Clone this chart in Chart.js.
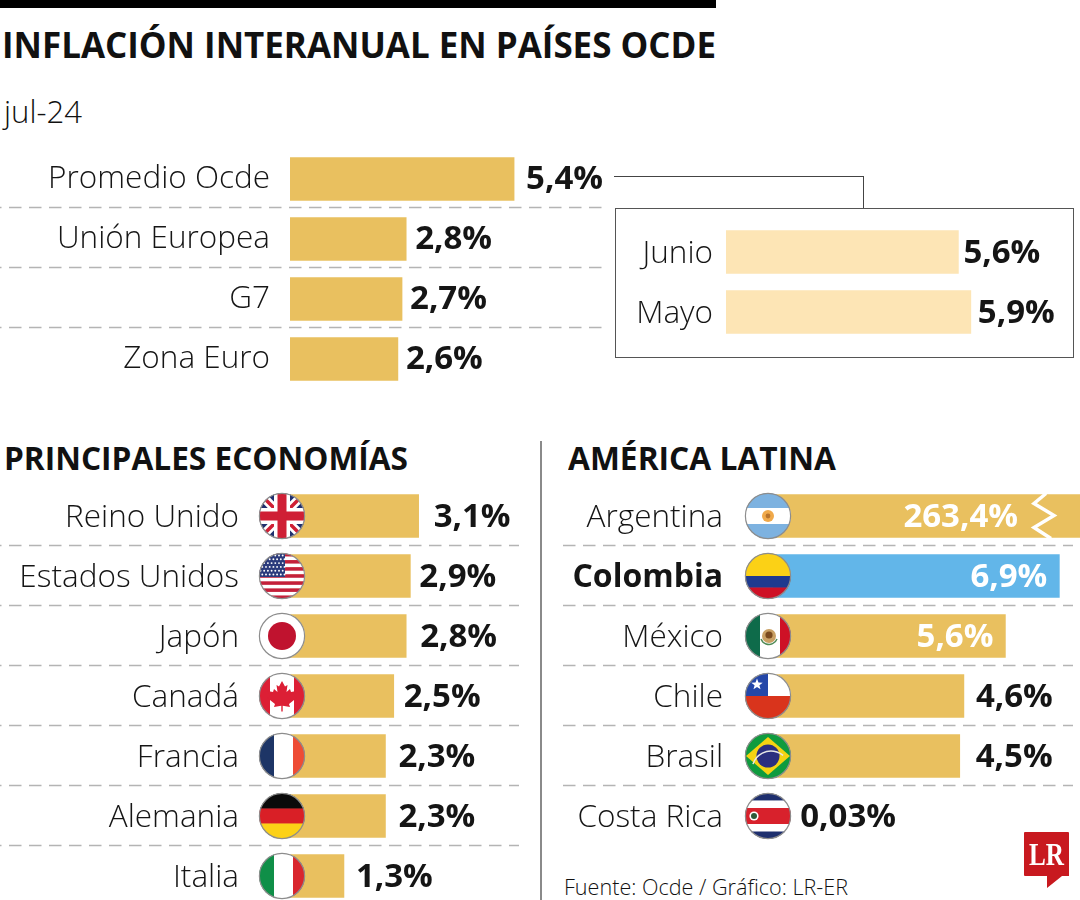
<!DOCTYPE html>
<html lang="es">
<head>
<meta charset="utf-8">
<title>Inflación interanual en países OCDE</title>
<script src="https://cdn.jsdelivr.net/npm/chart.js@4"></script>
<style>
  html, body { margin: 0; background: #fff; }
  #page { position: relative; width: 1080px; height: 900px; overflow: hidden; font-family: "Open Sans", sans-serif; color: #111; }
  #page canvas { position: absolute; }
  .txt { position: absolute; white-space: nowrap; transform-origin: left center; line-height: 1; }
  .head { font-weight: 700; }
  .rule { position: absolute; }
</style>
</head>
<body>
<div id="page">
  <div class="rule" style="left:0;top:0;width:716px;height:8px;background:#000"></div>
  <div class="txt head" id="title" data-w="714" style="left:2px;top:27px;font-size:36px">INFLACIÓN INTERANUAL EN PAÍSES OCDE</div>
  <div class="txt" style="left:4px;top:96px;font-size:31px;font-weight:300" id="period" data-w="78">jul-24</div>
  <div class="txt head" id="headA" data-w="404" style="left:4px;top:442px;font-size:32px">PRINCIPALES ECONOMÍAS</div>
  <div class="txt head" id="headB" data-w="268" style="left:568px;top:442px;font-size:32px">AMÉRICA LATINA</div>
  <div class="txt" id="source" data-w="284" style="left:564px;top:875px;font-size:22px;font-weight:300">Fuente: Ocde / Gráfico: LR-ER</div>

  <div class="rule" style="left:540px;top:441px;width:2px;height:459px;background:#8a8a8a"></div>
  <!-- connector from the OCDE average to the inset -->
  <div class="rule" style="left:614px;top:176px;width:250px;height:32px;border-top:1.5px solid #444;border-right:1.5px solid #444;box-sizing:border-box"></div>
  <div class="rule" style="left:615px;top:208px;width:459px;height:150px;border:1.5px solid #555;box-sizing:border-box"></div>

  <canvas id="topChart" width="610" height="240" style="left:0;top:149px"></canvas>
  <canvas id="insetChart" width="454" height="120" style="left:618px;top:222px"></canvas>
  <canvas id="mainChart" width="530" height="420" style="left:0;top:486px"></canvas>
  <canvas id="latamChart" width="530" height="360" style="left:550px;top:486px"></canvas>

  <svg class="rule" style="left:1024px;top:832px" width="46" height="57" viewBox="0 0 46 57">
    <path d="M1 0H44a1 1 0 0 1 1 1V44H38L23 56V44H1a1 1 0 0 1-1-1V1a1 1 0 0 1 1-1Z" fill="#c8191f"/>
    <text x="22.5" y="33" text-anchor="middle" font-family="Liberation Serif" font-weight="700" font-size="31" textLength="35" lengthAdjust="spacingAndGlyphs" fill="#fff">LR</text>
  </svg>
</div>

<script>
// ---- data
const groupLabels = ['Promedio Ocde', 'Unión Europea', 'G7', 'Zona Euro'];
const groupValues = [5.4, 2.8, 2.7, 2.6];
const groupText = ['5,4%', '2,8%', '2,7%', '2,6%'];

const insetLabels = ['Junio', 'Mayo'];
const insetValues = [5.6, 5.9];
const insetText = ['5,6%', '5,9%'];

const mainLabels = ['Reino Unido', 'Estados Unidos', 'Japón', 'Canadá', 'Francia', 'Alemania', 'Italia'];
const mainValues = [3.1, 2.9, 2.8, 2.5, 2.3, 2.3, 1.3];
const mainText = ['3,1%', '2,9%', '2,8%', '2,5%', '2,3%', '2,3%', '1,3%'];
const mainFlags = ['uk', 'us', 'jp', 'ca', 'fr', 'de', 'it'];

const latamLabels = ['Argentina', 'Colombia', 'México', 'Chile', 'Brasil', 'Costa Rica'];
const latamValues = [263.4, 6.9, 5.6, 4.6, 4.5, 0.03];
const latamText = ['263,4%', '6,9%', '5,6%', '4,6%', '4,5%', '0,03%'];
const latamFlags = ['ar', 'co', 'mx', 'cl', 'br', 'cr'];

// ---- look
const GOLD = '#e9c05f';
const PALE = '#fde5b5';
const BLUE = '#62b6e9';
const INK = '#151515';
const FONT = '"Open Sans", sans-serif';
const PX_PER_POINT = 41.5;   // all four panels share one horizontal scale

// ---- flags, each painted in a 46 unit circle centred on 0,0
function hBands(ctx, bands) {
  let y = -23;
  bands.forEach(([c, h]) => { ctx.fillStyle = c; ctx.fillRect(-24, y, 48, h + 0.4); y += h; });
}
function vBands(ctx, bands) {
  let x = -23;
  bands.forEach(([c, w]) => { ctx.fillStyle = c; ctx.fillRect(x, -24, w + 0.4, 48); x += w; });
}
function poly(ctx, pts, color) {
  ctx.fillStyle = color;
  ctx.beginPath();
  pts.forEach(([x, y], i) => i ? ctx.lineTo(x, y) : ctx.moveTo(x, y));
  ctx.closePath();
  ctx.fill();
}
function disc(ctx, x, y, r, color) {
  ctx.fillStyle = color;
  ctx.beginPath();
  ctx.arc(x, y, r, 0, Math.PI * 2);
  ctx.fill();
}
function star(ctx, x, y, r, color) {
  const pts = [];
  for (let i = 0; i < 10; i++) {
    const a = -Math.PI / 2 + i * Math.PI / 5, rr = i % 2 ? r * 0.42 : r;
    pts.push([x + rr * Math.cos(a), y + rr * Math.sin(a)]);
  }
  poly(ctx, pts, color);
}

const FLAGS = {
  uk(ctx) {
    ctx.fillStyle = '#1f2f6e'; ctx.fillRect(-24, -24, 48, 48);
    ctx.lineCap = 'butt';
    [[9, '#fff'], [3.5, '#cf1f35']].forEach(([w, c]) => {
      ctx.strokeStyle = c; ctx.lineWidth = w;
      ctx.beginPath(); ctx.moveTo(-24, -24); ctx.lineTo(24, 24); ctx.moveTo(24, -24); ctx.lineTo(-24, 24); ctx.stroke();
    });
    ctx.fillStyle = '#fff'; ctx.fillRect(-24, -8, 48, 16); ctx.fillRect(-8, -24, 16, 48);
    ctx.fillStyle = '#cf1f35'; ctx.fillRect(-24, -4.5, 48, 9); ctx.fillRect(-4.5, -24, 9, 48);
  },
  us(ctx) {
    for (let i = 0; i < 13; i++) {
      ctx.fillStyle = i % 2 ? '#fff' : '#c4203a';
      ctx.fillRect(-24, -23 + i * 46 / 13, 48, 46 / 13 + 0.3);
    }
    ctx.fillStyle = '#2b3b7c'; ctx.fillRect(-24, -24, 27, 25);
    for (let r = 0; r < 6; r++) {
      for (let c = 0; c < 7; c++) disc(ctx, -21.5 + c * 3.7 + (r % 2) * 1.8, -20.5 + r * 3.8, 0.95, '#fff');
    }
  },
  jp(ctx) {
    ctx.fillStyle = '#fff'; ctx.fillRect(-24, -24, 48, 48);
    disc(ctx, 0, 0, 14, '#c0132f');
  },
  ca(ctx) {
    vBands(ctx, [['#dc1f35', 11], ['#fff', 24], ['#dc1f35', 11]]);
    const half = [[0, -15], [3, -9.5], [5.5, -11], [4.5, -4], [8, -7], [9, -4], [14.5, -5], [12.5, 0.5], [14.5, 2], [7, 8], [8, 11], [0.7, 9.8], [0.7, 15.5]];
    const leaf = half.concat(half.slice(1).reverse().map(([x, y]) => [-x, y]));
    poly(ctx, leaf, '#dc1f35');
  },
  fr(ctx) { vBands(ctx, [['#1d3566', 15], ['#fff', 19], ['#ee4c35', 12]]); },
  de(ctx) { hBands(ctx, [['#0a0a0a', 15.5], ['#d91f26', 15], ['#fcd116', 15.5]]); },
  it(ctx) { vBands(ctx, [['#0f8f48', 15], ['#fff', 19], ['#d9262e', 12]]); },
  ar(ctx) {
    hBands(ctx, [['#7db2e0', 15], ['#fff', 16], ['#7db2e0', 15]]);
    disc(ctx, 0, 0, 6, '#f0a94a');
    disc(ctx, 0, 0, 2.4, '#b8732a');
  },
  co(ctx) { hBands(ctx, [['#fbd116', 23], ['#1f3a8f', 11.5], ['#ce1126', 11.5]]); },
  mx(ctx) {
    vBands(ctx, [['#0e6b4a', 15], ['#fff', 20], ['#ce1126', 11]]);
    disc(ctx, 1, 0, 7, '#c9a063');
    disc(ctx, 1, -1, 3.6, '#7a4a1e');
    ctx.strokeStyle = '#4f8a55'; ctx.lineWidth = 1.4;
    ctx.beginPath(); ctx.arc(1, 0, 8.5, 0.35, Math.PI - 0.35); ctx.stroke();
  },
  cl(ctx) {
    ctx.fillStyle = '#fff'; ctx.fillRect(-24, -24, 48, 24);
    ctx.fillStyle = '#2447a8'; ctx.fillRect(-24, -24, 24, 24);
    ctx.fillStyle = '#d9341c'; ctx.fillRect(-24, 0, 48, 24);
    star(ctx, -11, -11.5, 6, '#fff');
  },
  br(ctx) {
    ctx.fillStyle = '#0f9b3e'; ctx.fillRect(-24, -24, 48, 48);
    poly(ctx, [[0, -19], [22, 0], [0, 19], [-22, 0]], '#f5d312');
    disc(ctx, 0, 0, 11.5, '#2b2f7f');
    ctx.strokeStyle = '#e6e6e6'; ctx.lineWidth = 1.5;
    ctx.beginPath(); ctx.arc(3, 14, 19, Math.PI * 1.1, Math.PI * 1.72); ctx.stroke();
  },
  cr(ctx) {
    hBands(ctx, [['#1e2f6e', 7.5], ['#fff', 7.5], ['#d8212c', 16], ['#fff', 7.5], ['#1e2f6e', 7.5]]);
    disc(ctx, -14, 0, 4.6, '#fff');
    disc(ctx, -14, 0, 3, '#2f5a3a');
  }
};

function drawFlag(ctx, code, x, y) {
  ctx.save();
  ctx.translate(x, y);
  ctx.save();
  ctx.beginPath();
  ctx.arc(0, 0, 23, 0, Math.PI * 2);
  ctx.clip();
  FLAGS[code](ctx);
  ctx.restore();
  ctx.strokeStyle = '#8d8d8d';
  ctx.lineWidth = 1.2;
  ctx.beginPath();
  ctx.arc(0, 0, 22.6, 0, Math.PI * 2);
  ctx.stroke();
  ctx.restore();
}

// dashed row rules, flags and value labels
function rowDecor({ rule, ruleShift = 0, dashPhase = 0, text, dx, drop, flags, flagShift }) {
  return {
    id: 'rowDecor',
    beforeDatasetsDraw(chart) {
      if (!rule) return;
      const { ctx } = chart, y = chart.scales.y;
      ctx.save();
      ctx.strokeStyle = '#b4b4b4';
      ctx.lineWidth = 1.5;
      ctx.setLineDash([12.5, 7.5]);
      ctx.lineDashOffset = dashPhase;
      for (let i = 0; i < text.length - 1; i++) {
        const py = Math.round((y.getPixelForValue(i) + y.getPixelForValue(i + 1)) / 2) + 0.5 + ruleShift;
        ctx.beginPath(); ctx.moveTo(rule[0], py); ctx.lineTo(rule[1], py); ctx.stroke();
      }
      ctx.restore();
    },
    afterDatasetsDraw(chart) {
      const { ctx, chartArea } = chart, bars = chart.getDatasetMeta(0).data;
      ctx.save();
      if (flags) {
        const x0 = chart.scales.x.getPixelForValue(0) + flagShift;
        flags.forEach((code, i) => drawFlag(ctx, code, x0, bars[i].y));
      }
      ctx.font = `700 33px ${FONT}`;
      ctx.textBaseline = 'middle';
      bars.forEach((bar, i) => {
        const end = Math.min(bar.x, chartArea.right);
        const inside = dx[i] < 0;
        ctx.textAlign = inside ? 'right' : 'left';
        ctx.fillStyle = inside ? '#fff' : INK;
        ctx.fillText(text[i], end + dx[i], bar.y + drop);
      });
      ctx.restore();
    }
  };
}

// cut mark on the Argentina bar, whose value runs far off the scale
const breakMark = {
  id: 'breakMark',
  afterDatasetsDraw(chart) {
    const bar = chart.getDatasetMeta(0).data[0], { ctx, chartArea } = chart;
    const r = chartArea.right, t = bar.y - 21.5, b = bar.y + 21.5;
    ctx.save();
    ctx.strokeStyle = '#fff';
    ctx.lineWidth = 3.5;
    ctx.lineJoin = 'miter';
    ctx.beginPath();
    ctx.moveTo(r - 34, t - 1);
    ctx.lineTo(r - 46, t + 9);
    ctx.lineTo(r - 26, t + 21);
    ctx.lineTo(r - 46, t + 33);
    ctx.lineTo(r - 29, b + 1);
    ctx.stroke();
    ctx.restore();
  }
};

function hBarChart(id, labels, values, colors, cfg) {
  const canvas = document.getElementById(id);
  return new Chart(canvas, {
    type: 'bar',
    data: { labels, datasets: [{ data: values, backgroundColor: colors, barThickness: 43, categoryPercentage: 1, borderWidth: 0 }] },
    plugins: cfg.plugins,
    options: {
      indexAxis: 'y',
      responsive: false,
      animation: false,
      layout: { padding: 0 },
      plugins: { legend: { display: false }, tooltip: { enabled: false }, title: { display: false } },
      scales: {
        x: { display: false, min: 0, max: (canvas.width - cfg.zero) / PX_PER_POINT },
        y: {
          afterFit(scale) {
            // fixed gutter; the tick padding would otherwise also eat into the row height
            scale.width = cfg.zero;
            scale.paddingTop = 0;
            scale.paddingBottom = 0;
          },
          grid: { display: false, drawTicks: false },
          border: { display: false },
          ticks: {
            autoSkip: false,
            padding: cfg.gap,
            labelOffset: cfg.labelDrop || 0,
            color: INK,
            font: c => c.index === cfg.boldIndex
              ? { family: FONT, size: 32, weight: '700' }
              : { family: FONT, size: 31.5, weight: '300' }
          }
        }
      }
    }
  });
}

hBarChart('topChart', groupLabels, groupValues, GOLD, {
  zero: 290, gap: 20,
  plugins: [rowDecor({ rule: [0, 603], ruleShift: -2, dashPhase: 11, text: groupText, dx: [12, 9, 8, 8], drop: 1 })]
});

hBarChart('insetChart', insetLabels, insetValues, PALE, {
  zero: 108, gap: 13, labelDrop: 2,
  plugins: [rowDecor({ text: insetText, dx: [5, 7], drop: 2 })]
});

hBarChart('mainChart', mainLabels, mainValues, GOLD, {
  zero: 290, gap: 51, labelDrop: 2,
  plugins: [rowDecor({ rule: [0, 519], ruleShift: -1, dashPhase: 11, text: mainText, dx: [15, 9, 14, 10, 13, 13, 12], drop: 2, flags: mainFlags, flagShift: -8 })]
});

hBarChart('latamChart', latamLabels, latamValues, latamLabels.map(l => l === 'Colombia' ? BLUE : GOLD), {
  zero: 223, gap: 50, boldIndex: 1, labelDrop: 2,
  plugins: [breakMark, rowDecor({ rule: [12, 523], ruleShift: -1, dashPhase: 19, text: latamText, dx: [-62, -12, -12, 12, 16, 26], drop: 2, flags: latamFlags, flagShift: -5 })]
});

// squeeze the wide fallback face to the width the headings have in the picture
document.querySelectorAll('[data-w]').forEach(el => {
  el.style.transform = `scaleX(${el.dataset.w / el.getBoundingClientRect().width})`;
});
</script>
</body>
</html>
